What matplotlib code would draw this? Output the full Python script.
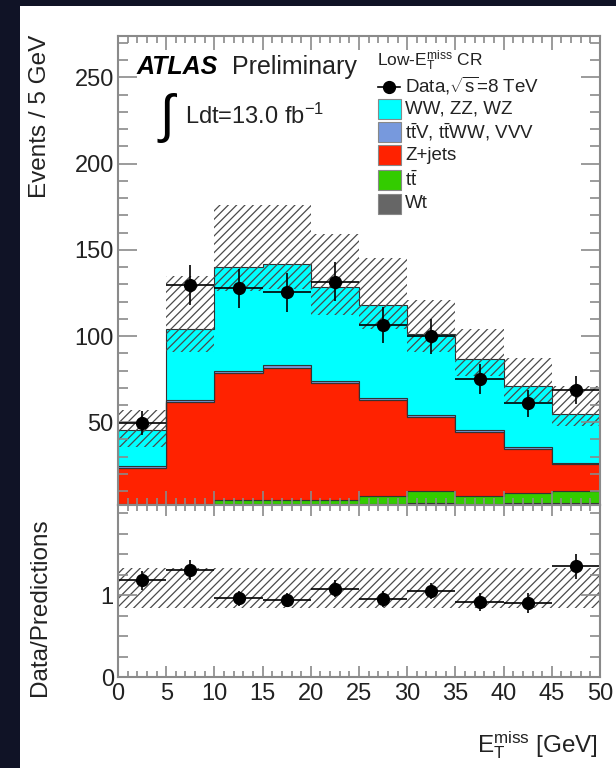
import numpy as np
import matplotlib
matplotlib.use("Agg")
import matplotlib.pyplot as plt
from matplotlib.patches import Rectangle
from matplotlib.lines import Line2D
from matplotlib.ticker import MultipleLocator, FixedLocator

plt.rcParams['font.family'] = ['Liberation Sans', 'DejaVu Sans']
plt.rcParams['mathtext.fontset'] = 'custom'
plt.rcParams['mathtext.rm'] = 'Liberation Sans'
plt.rcParams['mathtext.it'] = 'Liberation Sans:italic'
plt.rcParams['mathtext.bf'] = 'Liberation Sans:bold'
plt.rcParams['hatch.linewidth'] = 0.9

# E_T^miss bins [GeV]
edges = [0, 5, 10, 15, 20, 25, 30, 35, 40, 45, 50]

# data
data = [49.6, 129.6, 127.6, 125.3, 131.6, 106.5, 99.8, 75.3, 61.0, 68.8]
data_err = [7.0, 11.4, 11.3, 11.2, 11.5, 10.3, 10.0, 8.7, 7.8, 8.3]

# backgrounds (stack order bottom -> top)
wt = [2.4, 2.4, 2.6, 2.6, 2.6, 2.8, 3.0, 2.8, 2.9, 3.0]
ttbar = [0.4, 0.4, 2.5, 2.5, 2.5, 4.2, 7.4, 4.2, 6.1, 7.0]
zjets = [20.9, 58.8, 73.5, 76.5, 67.7, 55.9, 42.7, 37.3, 25.5, 15.7]
ttv = [0.8, 1.2, 1.4, 1.4, 1.3, 1.2, 1.1, 1.0, 0.9, 0.8]
diboson = [20.8, 41.2, 60.0, 59.0, 54.5, 53.7, 46.8, 41.6, 35.4, 28.5]

# total uncertainty band edges
band_hi = [57.0, 134.7, 176.0, 176.0, 159.0, 145.0, 120.8, 104.0, 87.5, 70.8]
band_lo = [35.5, 90.6, 126.0, 127.0, 112.0, 104.0, 90.6, 76.6, 62.0, 48.0]

# ratio panel
ratio = [1.18, 1.31, 0.96, 0.94, 1.08, 0.95, 1.05, 0.92, 0.90, 1.35]
ratio_err = [0.12, 0.12, 0.09, 0.09, 0.10, 0.10, 0.10, 0.11, 0.12, 0.15]
ratio_band_hi = [1.33, 1.33, 1.33, 1.33, 1.33, 1.33, 1.33, 1.33, 1.33, 1.33]
ratio_band_lo = [0.84, 0.84, 0.84, 0.84, 0.84, 0.84, 0.84, 0.84, 0.84, 0.84]

stack = [("Wt", wt, "#666666"),
         (r"$\mathrm{t\bar{t}}$", ttbar, "#33cc00"),
         ("Z+jets", zjets, "#ff2200"),
         (r"$\mathrm{t\bar{t}}$V, $\mathrm{t\bar{t}}$WW, VVV", ttv, "#7799dd"),
         ("WW, ZZ, WZ", diboson, "#00ffff")]

W, H = 616, 768
def fx(x):
    return x / W
def fy(y):
    return 1 - y / H

txt = "#222222"
axcol = "#8a8a8a"

fig = plt.figure(figsize=(W / 100, H / 100), dpi=100, facecolor="#101326")
fig.patches.append(Rectangle((fx(20), 0), 1, fy(6), transform=fig.transFigure,
                             facecolor="white", edgecolor="none", zorder=-10))

ax = fig.add_axes([fx(118), fy(505), (600 - 118) / W, (505 - 36) / H])
rax = fig.add_axes([fx(118), fy(677), (600 - 118) / W, (677 - 505) / H], sharex=ax)

centers = 0.5 * (np.array(edges[:-1]) + np.array(edges[1:]))
halfw = 0.5 * np.diff(edges)

# stacked histograms
bottom = np.zeros(len(data))
for name, vals, col in stack:
    top = bottom + np.array(vals)
    ax.stairs(top, edges, baseline=bottom, fill=True, facecolor=col,
              edgecolor="#333333", linewidth=0.8)
    bottom = top

ax.stairs(band_hi, edges, baseline=band_lo, fill=True, facecolor="none",
          edgecolor="#4a4a4a", linewidth=0, hatch="////")

ax.errorbar(centers, data, yerr=data_err, xerr=halfw, fmt="o", color="black",
            ms=8.5, elinewidth=1.2, capsize=0)

ax.set_xlim(0, 50)
ax.set_ylim(2, 274)
ax.yaxis.set_major_locator(MultipleLocator(50))
ax.yaxis.set_minor_locator(MultipleLocator(10))
ax.xaxis.set_major_locator(MultipleLocator(5))
ax.xaxis.set_minor_locator(MultipleLocator(1))
plt.setp(ax.get_xticklabels(), visible=False)

# ratio panel
rax.stairs(ratio_band_hi, edges, baseline=ratio_band_lo, fill=True, facecolor="none",
           edgecolor="#4a4a4a", linewidth=0, hatch="////")
rax.errorbar(centers, ratio, yerr=ratio_err, xerr=halfw, fmt="o", color="black",
             ms=8.5, elinewidth=1.2, capsize=0)
rax.set_ylim(0, 2.1)
rax.yaxis.set_major_locator(FixedLocator([0, 1]))
rax.yaxis.set_minor_locator(MultipleLocator(0.25))

for a in (ax, rax):
    for sp in a.spines.values():
        sp.set_color(axcol)
        sp.set_linewidth(1.5)
    a.tick_params(which="both", direction="in", top=True, right=True,
                  colors=axcol, labelcolor=txt, labelsize=17, width=1.2, pad=3)
    a.tick_params(axis="y", which="major", length=14)
    a.tick_params(axis="y", which="minor", length=7)
ax.tick_params(axis="x", which="major", length=10)
ax.tick_params(axis="x", which="minor", length=5)
rax.tick_params(axis="x", which="major", length=8, pad=4)
rax.tick_params(axis="x", which="minor", length=4)

# axis titles
fig.text(fx(40), fy(35), "Events / 5 GeV", rotation=90, ha="center", va="top",
         fontsize=17.5, color=txt)
fig.text(fx(40), fy(607), "Data/Predictions", rotation=90, ha="center", va="center",
         fontsize=17.5, color=txt)
fig.text(fx(598), fy(745), r"$\mathrm{E}_{\mathrm{T}}^{\mathrm{miss}}$ [GeV]",
         ha="right", va="center", fontsize=17.5, color=txt)

# ATLAS label
fig.text(fx(137), fy(67), "ATLAS", fontsize=18, fontweight="bold", style="italic",
         ha="left", va="center", color="black")
fig.text(fx(232), fy(67), "Preliminary", fontsize=18, ha="left", va="center", color=txt)
fig.text(fx(160), fy(118), "\u222b", fontsize=38, ha="left", va="center", color="black")
fig.text(fx(185), fy(116), r"Ldt=13.0 fb$^{\mathrm{-1}}$", fontsize=17, ha="left",
         va="center", color=txt)

# legend
fig.text(fx(377), fy(61), r"Low-$\mathrm{E}_{\mathrm{T}}^{\mathrm{miss}}$ CR", fontsize=12.5,
         ha="left", va="center", color=txt)
fig.lines.append(Line2D([fx(378), fx(400)], [fy(87), fy(87)], transform=fig.transFigure,
                        color="black", lw=1.2))
fig.lines.append(Line2D([fx(389)], [fy(87)], transform=fig.transFigure, marker="o",
                        color="black", ms=8.5))
fig.text(fx(405), fy(86), r"Data,$\sqrt{\mathrm{s}}$=8 TeV", fontsize=13.5, ha="left",
         va="center", color=txt)
leg_y = {"WW, ZZ, WZ": 109,
         r"$\mathrm{t\bar{t}}$V, $\mathrm{t\bar{t}}$WW, VVV": 132,
         "Z+jets": 155,
         r"$\mathrm{t\bar{t}}$": 180,
         "Wt": 204}
for name, vals, col in reversed(stack):
    y = leg_y[name]
    fig.patches.append(Rectangle((fx(378), fy(y + 9.5)), 23 / W, 19 / H,
                                 transform=fig.transFigure, facecolor=col,
                                 edgecolor="#888888", linewidth=0.8))
    fig.text(fx(405), fy(y), name, fontsize=13.5, ha="left", va="center", color=txt)

fig.savefig("out.png", dpi=100, facecolor=fig.get_facecolor())
